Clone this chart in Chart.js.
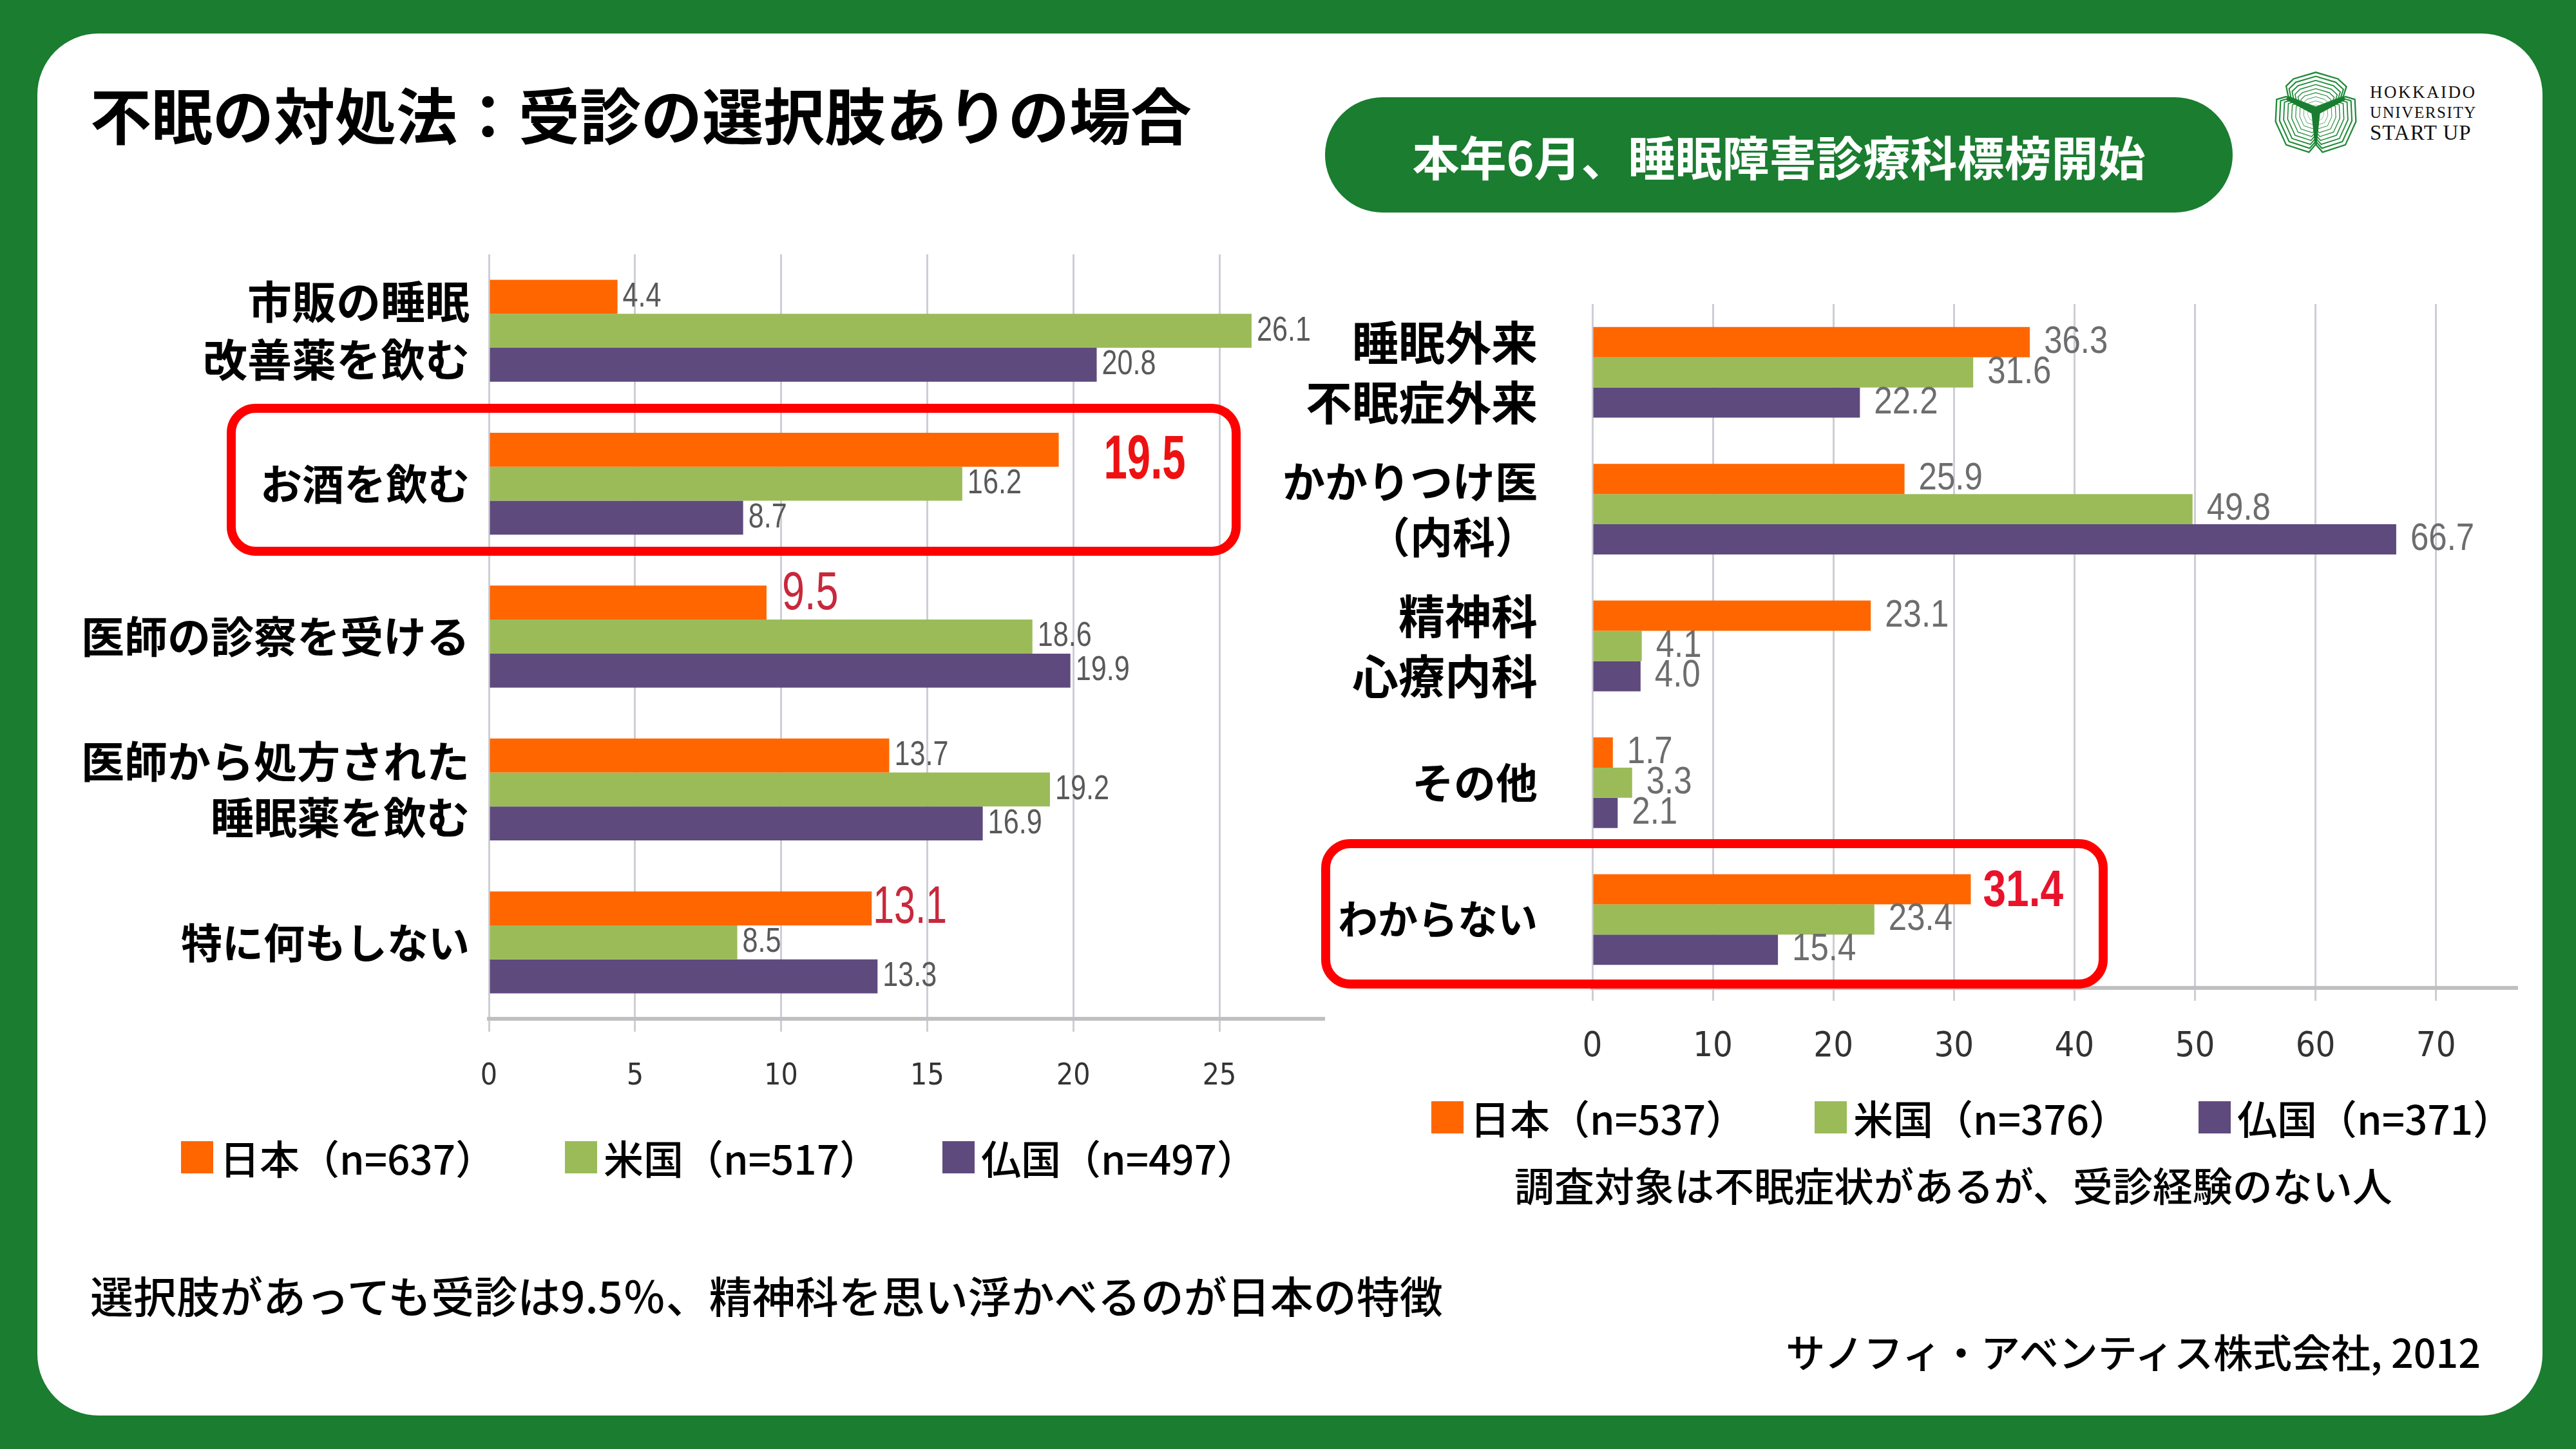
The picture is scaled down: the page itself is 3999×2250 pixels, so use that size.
<!DOCTYPE html>
<html lang="ja">
<head>
<meta charset="UTF-8">
<title>不眠の対処法</title>
<script src="https://cdn.jsdelivr.net/npm/chart.js@4"></script>
<style>
  body { margin: 0; width: 3999px; height: 2250px; background: #1a7d30; overflow: hidden; position: relative;
         font-family: "Noto Sans CJK JP", sans-serif; color: #000; }
  #card { position: absolute; left: 58px; top: 52px; width: 3889px; height: 2146px; background: #fff; border-radius: 95px; }
  .abs { position: absolute; line-height: 1; white-space: nowrap; }
  #title { left: 140px; top: 128px; font-size: 95px; font-weight: bold; }
  #pill { position: absolute; left: 2057px; top: 151px; width: 1409px; height: 179px; border-radius: 90px; background: #1a7d30;
          color: #fff; font-size: 73px; font-weight: bold; display: flex; align-items: center; justify-content: center; }
  canvas { position: absolute; }
  .box { position: absolute; border: 14px solid #ff0000; border-radius: 45px; box-sizing: border-box; }
  .leg { position: absolute; display: flex; align-items: center; height: 80px; font-size: 62px; font-weight: 500; white-space: nowrap; }
  .leg span.sq { display: inline-block; width: 50px; height: 50px; margin-right: 10px; }
  .logo { position: absolute; font-family: "Liberation Serif", "DejaVu Serif", serif; line-height: 1; color: #111; }
</style>
</head>
<body>
<div id="card"></div>
<div id="title" class="abs">不眠の対処法：受診の選択肢ありの場合</div>
<div id="pill">本年6月、睡眠障害診療科標榜開始</div>

<svg id="logoIcon" style="position:absolute; left:3531px; top:110px;" width="128" height="128" viewBox="95 90 390 390"></svg>
<div class="logo" style="left:3679px; top:130px; font-size:27px; letter-spacing:2.5px;">HOKKAIDO</div>
<div class="logo" style="left:3679px; top:162px; font-size:25px; letter-spacing:1.6px;">UNIVERSITY</div>
<div class="logo" style="left:3679px; top:190px; font-size:33px; letter-spacing:1px;">START UP</div>

<canvas id="leftChart" width="2000" height="1390" style="left:100px; top:330px;"></canvas>
<canvas id="rightChart" width="1990" height="1280" style="left:1950px; top:420px;"></canvas>

<!-- red highlight boxes -->
<div class="box" style="left:352px; top:627px; width:1574px; height:236px;"></div>
<div class="box" style="left:2051px; top:1303px; width:1221px; height:232px;"></div>

<div id="legendLeft"></div>
<div id="legendRight"></div>

<div class="abs" style="left:2351px; top:1808px; font-size:62px; font-weight:500;">調査対象は不眠症状があるが、受診経験のない人</div>
<div class="abs" style="left:140px; top:1976px; font-size:67px; font-weight:500;">選択肢があっても受診は9.5％、精神科を思い浮かべるのが日本の特徴</div>
<div class="abs" style="right:148px; top:2067px; font-size:61px; font-weight:500;">サノフィ・アベンティス株式会社, 2012</div>

<script>
// ---- data ----
const leftCategories = [['市販の睡眠', '改善薬を飲む'], 'お酒を飲む', '医師の診察を受ける', ['医師から処方された', '睡眠薬を飲む'], '特に何もしない'];
const leftJapan  = [4.4, 19.5, 9.5, 13.7, 13.1];
const leftUS     = [26.1, 16.2, 18.6, 19.2, 8.5];
const leftFrance = [20.8, 8.7, 19.9, 16.9, 13.3];
const leftSeries = ['日本（n=637）', '米国（n=517）', '仏国（n=497）'];
const leftXTicks = [0, 5, 10, 15, 20, 25];

const rightCategories = [['睡眠外来', '不眠症外来'], ['かかりつけ医', '（内科）'], ['精神科', '心療内科'], 'その他', 'わからない'];
const rightJapan  = [36.3, 25.9, 23.1, 1.7, 31.4];
const rightUS     = [31.6, 49.8, 4.1, 3.3, 23.4];
const rightFrance = [22.2, 66.7, 4.0, 2.1, 15.4];
const rightSeries = ['日本（n=537）', '米国（n=376）', '仏国（n=371）'];
const rightXTicks = [0, 10, 20, 30, 40, 50, 60, 70];

const colors = ['#ff6600', '#9bbb59', '#5f4a7e'];
const numFont = '"Liberation Sans", Arial, sans-serif';
const tickFont = '"Liberation Sans Narrow", "DejaVu Sans Condensed", "Liberation Sans", sans-serif';

// draws the number at the end of each bar (squeezed horizontally like the original narrow font)
const valueLabels = {
    id: 'valueLabels',
    afterDatasetsDraw(chart, args, opts) {
        const ctx = chart.ctx;
        chart.data.datasets.forEach((ds, i) => {
            chart.getDatasetMeta(i).data.forEach((bar, j) => {
                const sp = opts.special[i + '-' + j] || {};
                const dx = sp.dx !== undefined ? sp.dx : opts.gap;
                ctx.save();
                ctx.textAlign = 'left';
                ctx.textBaseline = 'middle';
                ctx.font = sp.font || opts.font;
                ctx.fillStyle = sp.color || opts.color;
                ctx.translate(bar.x + dx, bar.y + (sp.dy || 0));
                ctx.scale(sp.sx || opts.sx, 1);
                ctx.fillText(ds.data[j].toFixed(1), 0, 0);
                ctx.restore();
            });
        });
    }
};
Chart.register(valueLabels);

function makeChart(id, cats, series, names, ticks, cfg) {
    return new Chart(document.getElementById(id), {
        type: 'bar',
        data: {
            labels: cats,
            datasets: series.map((d, i) => ({ label: names[i], data: d, backgroundColor: colors[i] }))
        },
        options: {
            indexAxis: 'y',
            responsive: false,
            animation: false,
            datasets: { bar: { categoryPercentage: cfg.catPct, barPercentage: 1 } },
            layout: { padding: { top: cfg.padTop, right: cfg.padRight } },
            plugins: {
                legend: { display: false },
                tooltip: { enabled: false },
                valueLabels: cfg.labels
            },
            scales: {
                x: {
                    min: 0, max: cfg.max,
                    afterBuildTicks: s => { s.ticks = ticks.map(v => ({ value: v })); },
                    afterFit: s => { s.height = cfg.xHeight; s.paddingLeft = 0; s.paddingRight = 0; },
                    grid: { color: '#cdced6', lineWidth: 3, tickLength: 20 },
                    border: { color: '#c0c0c0', width: 6 },
                    ticks: { padding: cfg.tickPad, color: '#333', font: { family: tickFont, size: cfg.tickSize } }
                },
                y: {
                    // fixed width, and no extra room for the label overflow
                    afterFit: s => { s.width = cfg.yWidth; s.paddingTop = 0; s.paddingBottom = 0; },
                    grid: { display: false },
                    border: { display: false },
                    ticks: {
                        padding: cfg.yPad, color: '#000',
                        // the slide uses a proportional font, so kana-heavy labels come out narrower
                        font: c => ({ family: '"Noto Sans CJK JP"', size: cfg.catSizes[c.index] || 68, weight: 'bold', lineHeight: 1.3 })
                    }
                }
            }
        }
    });
}

makeChart('leftChart', leftCategories, [leftJapan, leftUS, leftFrance], leftSeries, leftXTicks, {
    max: 28.57, catPct: 0.667, padTop: 65, padRight: 45, xHeight: 138, yWidth: 659, yPad: 22,
    tickPad: 42, tickSize: 46, catSizes: [69, 65, 67, 67, 64],
    labels: {
        font: '54px ' + numFont, color: '#595959', gap: 8, sx: 0.8,
        special: {
            '0-1': { font: 'bold 96px ' + numFont, color: '#ee1111', dx: 70, dy: 18, sx: 0.68 },
            '0-2': { font: '84px ' + numFont, color: '#c8283c', dx: 24, dy: -13, sx: 0.75 },
            '0-4': { font: '82px ' + numFont, color: '#c8283c', dx: 2, sx: 0.72 }
        }
    }
});

makeChart('rightChart', rightCategories, [rightJapan, rightUS, rightFrance], rightSeries, rightXTicks, {
    max: 76.7, catPct: 0.663, padTop: 52, padRight: 33, xHeight: 166, yWidth: 522, yPad: 77,
    tickPad: 40, tickSize: 54, catSizes: [72, 66, 72, 65, 62],
    labels: {
        font: '60px ' + numFont, color: '#6d6d6d', gap: 22, sx: 0.85,
        special: {
            '0-4': { font: 'bold 80px ' + numFont, color: '#e8132a', dx: 19, dy: 4, sx: 0.8 }
        }
    }
});

// html legends
function buildLegend(el, names, lefts, centerY) {
    names.forEach((n, i) => {
        const d = document.createElement('div');
        d.className = 'leg';
        d.style.left = lefts[i] + 'px';
        d.style.top = (centerY - 40) + 'px';
        d.innerHTML = '<span class="sq" style="background:' + colors[i] + '"></span>' + n;
        el.appendChild(d);
    });
}
buildLegend(document.getElementById('legendLeft'), leftSeries, [281, 877, 1463], 1797);
buildLegend(document.getElementById('legendRight'), rightSeries, [2222, 2817, 3413], 1735);

// logo icon: three striped lobes and a solid Y
const svg = document.getElementById('logoIcon');
const lobes = [
    '150,162 185,128 290,97 395,128 435,165 420,212 290,262 160,212',
    '105,225 150,212 268,268 285,300 288,440 258,475 150,440 100,330',
    '475,225 430,212 312,268 295,300 292,440 322,475 430,440 480,330'
];
let parts = '';
lobes.forEach(p => {
    for (let s = 1; s > 0.2; s -= 0.1) {
        parts += '<polygon points="' + p + '" fill="none" stroke="#1f8a37" stroke-width="7" ' +
                 'transform="translate(290 290) scale(' + s.toFixed(2) + ') translate(-290 -290)"/>';
    }
});
parts += '<polygon points="160,212 290,262 420,212 432,226 310,292 296,428 284,428 270,292 148,226" fill="#1a7d30"/>';
svg.innerHTML = parts;
</script>
</body>
</html>
